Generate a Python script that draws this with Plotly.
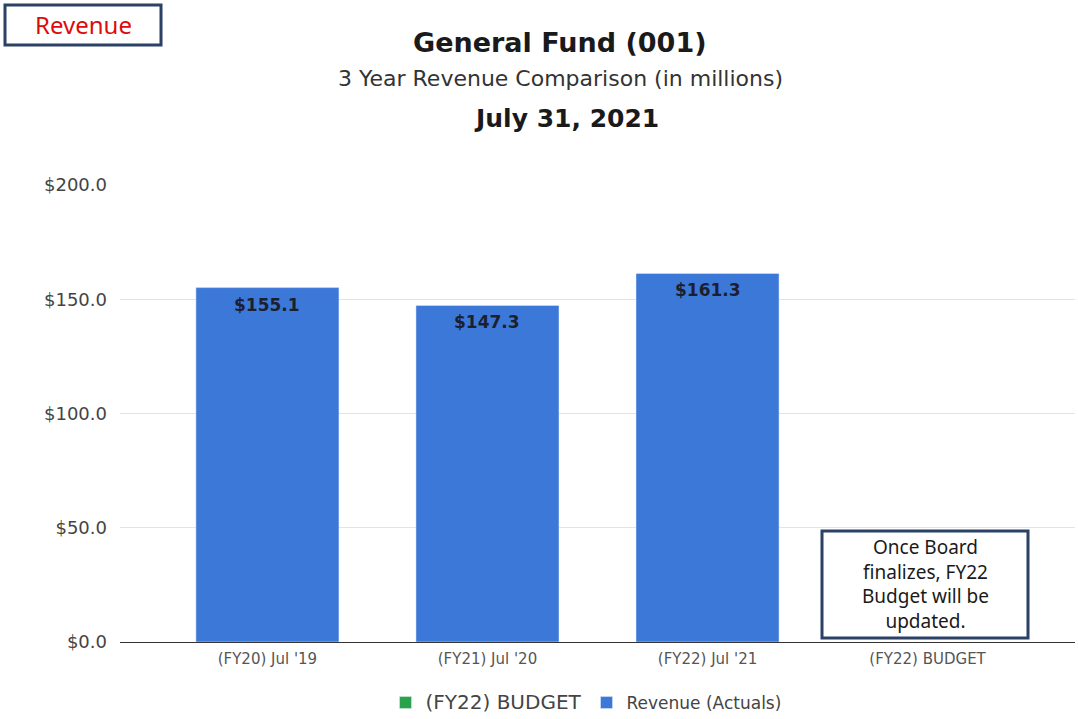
import plotly.graph_objects as go

# Chart data (in millions)
categories = ["(FY20) Jul '19", "(FY21) Jul '20", "(FY22) Jul '21", "(FY22) BUDGET"]
revenue_actuals = [155.1, 147.3, 161.3, None]
budget = [None, None, None, None]
y_ticks = [0, 50, 100, 150, 200]

W, H = 1078, 719
ML, MR, MT, MB = 120, 3, 185, 77
PW, PH = W - ML - MR, H - MT - MB


def px_x(x):
    return (x - ML) / PW


def px_y(y):
    return (H - MB - y) / PH


BLUE = "#3c78d8"
GREEN = "#2aa14b"
FONT = "DejaVu Sans, Liberation Sans, Arial, sans-serif"
NOTE_FONT = "Noto Sans, sans-serif"

fig = go.Figure()
fig.add_trace(go.Bar(
    x=categories, y=budget,
    name='<span style="font-size:20px">(FY22) BUDGET</span>',
    marker_color=GREEN, width=0.65,
))
fig.add_trace(go.Bar(
    x=categories, y=revenue_actuals,
    name="Revenue (Actuals)",
    marker_color=BLUE, width=0.65,
))

fig.update_layout(
    width=W, height=H,
    margin=dict(l=ML, r=MR, t=MT, b=MB, autoexpand=False),
    paper_bgcolor="white", plot_bgcolor="white",
    barmode="overlay",
    font=dict(family=FONT, color="#444"),
    showlegend=True,
    legend=dict(
        orientation="h", x=px_x(586), xanchor="center",
        y=px_y(703), yanchor="middle",
        font=dict(size=17, color="#444"),
        itemwidth=30, traceorder="normal",
    ),
    xaxis=dict(
        range=[-0.67, 3.67], showgrid=False, zeroline=False,
        showline=False, ticks="",
        tickfont=dict(size=15, color="#555"),
    ),
    yaxis=dict(
        range=[0, 200], tickvals=y_ticks,
        ticktext=[f"${v:.1f}" for v in y_ticks],
        tickfont=dict(size=18, color="#444"),
        showgrid=True, gridcolor="#e3e3e3", gridwidth=1,
        zeroline=True, zerolinecolor="#333", zerolinewidth=1,
        ticks="", ticklen=0, automargin=False,
    ),
)
fig.update_xaxes(ticklabelstandoff=6, automargin=False)
fig.update_yaxes(ticklabelstandoff=12)

annotations = [
    dict(text="<b>General Fund (001)</b>", x=px_x(560), y=px_y(42),
         font=dict(size=27, color="#1a1a1a")),
    dict(text="3 Year Revenue Comparison (in millions)", x=px_x(560), y=px_y(79),
         font=dict(size=22, color="#333")),
    dict(text="<b>July 31, 2021</b>", x=px_x(566), y=px_y(118),
         font=dict(size=25, color="#1a1a1a")),
    dict(text="Revenue", x=px_x(83), y=px_y(25),
         font=dict(size=24, color="#dd0a0a", family=NOTE_FONT)),
    dict(text="Once Board<br>finalizes, FY22<br>Budget will be<br>updated.",
         x=px_x(925), y=px_y(584),
         font=dict(size=19, color="#1a1a1a", family=NOTE_FONT)),
]
for a in annotations:
    a.update(xref="paper", yref="paper", showarrow=False,
             xanchor="center", yanchor="middle")

# value labels just inside the top of each bar
for cat, v in zip(categories, revenue_actuals):
    if v is None:
        continue
    annotations.append(dict(
        x=cat, y=v, xref="x", yref="y", text=f"<b>${v:.1f}</b>",
        showarrow=False, yanchor="middle", yshift=-17,
        font=dict(size=17, color="#1c1f2e", family=FONT),
    ))
fig.update_layout(annotations=annotations)

fig.update_layout(shapes=[
    dict(type="rect", xref="paper", yref="paper",
         x0=px_x(5), x1=px_x(161), y0=px_y(45), y1=px_y(5),
         line=dict(color="#2b4266", width=3), fillcolor="white", layer="above"),
    dict(type="rect", xref="paper", yref="paper",
         x0=px_x(822), x1=px_x(1028), y0=px_y(638), y1=px_y(531),
         line=dict(color="#2b4266", width=3), fillcolor="white", layer="above"),
])

fig.write_html("out.html")
